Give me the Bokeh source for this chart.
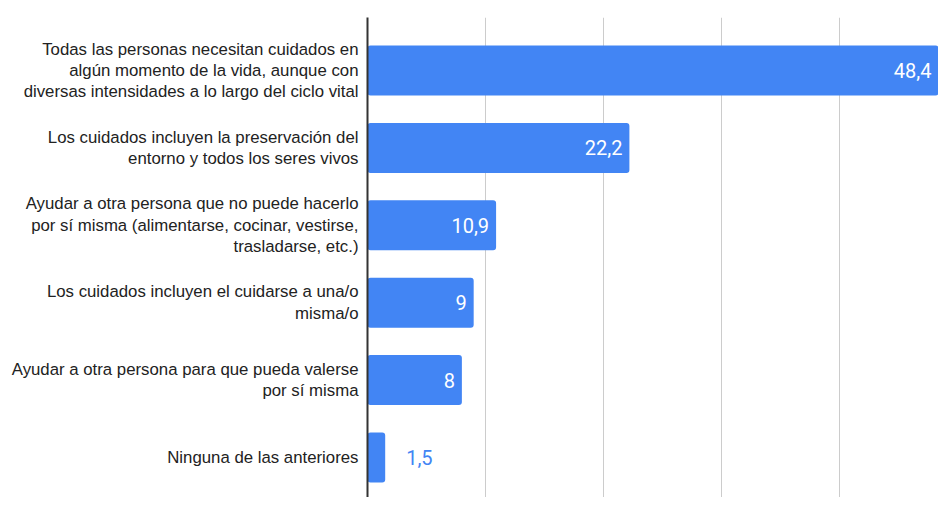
from bokeh.plotting import figure
from bokeh.models import Range1d, FixedTicker, ColumnDataSource
from bokeh.embed import file_html
from bokeh.resources import INLINE

categories = [
    "Todas las personas necesitan cuidados en\nalgún momento de la vida, aunque con\ndiversas intensidades a lo largo del ciclo vital",
    "Los cuidados incluyen la preservación del\nentorno y todos los seres vivos",
    "Ayudar a otra persona que no puede hacerlo\npor sí misma (alimentarse, cocinar, vestirse,\ntrasladarse, etc.)",
    "Los cuidados incluyen el cuidarse a una/o\nmisma/o",
    "Ayudar a otra persona para que pueda valerse\npor sí misma",
    "Ninguna de las anteriores",
]
values = [48.4, 22.2, 10.9, 9, 8, 1.5]
value_labels = ["48,4", "22,2", "10,9", "9", "8", "1,5"]

n = len(categories)
ypos = [n - 1 - i for i in range(n)]

inside = [i for i in range(n) if values[i] >= 5]
outside = [i for i in range(n) if values[i] < 5]

src = ColumnDataSource(dict(y=ypos, v=values, lab=value_labels))
src_in = ColumnDataSource(dict(y=[ypos[i] for i in inside], v=[values[i] for i in inside], lab=[value_labels[i] for i in inside]))
src_out = ColumnDataSource(dict(y=[ypos[i] for i in outside], v=[values[i] for i in outside], lab=[value_labels[i] for i in outside]))

p = figure(width=938, height=497, output_backend="svg", toolbar_location=None,
           x_range=Range1d(0, 48.4), y_range=Range1d(-0.517, 5.685),
           min_border_left=367, min_border_right=0, min_border_top=17, min_border_bottom=0)
p.outline_line_color = None
p.background_fill_color = "white"

p.hbar(y="y", right="v", left=0, height=0.646, source=src, fill_color="#4285F4",
       line_color=None, border_radius=3)

p.text(x="v", y="y", text="lab", source=src_in, x_offset=-7, text_align="right",
       text_baseline="middle", text_color="white", text_font_size="20px",
       text_font={"value": "Roboto"})
p.text(x="v", y="y", text="lab", source=src_out, x_offset=21, text_align="left",
       text_baseline="middle", text_color="#4285F4", text_font_size="20px",
       text_font={"value": "Roboto"})

p.xaxis.visible = False
p.xgrid.ticker = FixedTicker(ticks=[10, 20, 30, 40])
p.xgrid.grid_line_color = "#cccccc"
p.xgrid.grid_line_width = 1
p.ygrid.grid_line_color = None

ya = p.yaxis[0]
ya.ticker = FixedTicker(ticks=ypos)
ya.major_label_overrides = {ypos[i]: categories[i] for i in range(n)}
ya.major_tick_line_color = None
ya.minor_tick_line_color = None
ya.major_tick_out = 0
ya.major_tick_in = 0
ya.major_label_standoff = 9
ya.axis_line_color = "#333333"
ya.axis_line_width = 2
ya.major_label_text_font = "Liberation Sans"
ya.major_label_text_font_size = "16.8px"
ya.major_label_text_color = "#222222"
ya.major_label_text_line_height = 1.13

open("out.html", "w").write(file_html(p, INLINE))
